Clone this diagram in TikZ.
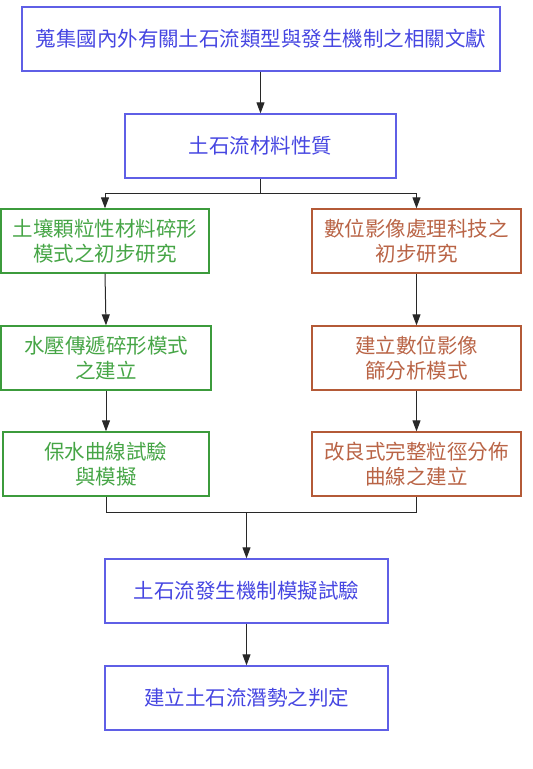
\documentclass[tikz,border=0pt]{standalone}
\usepackage{fontspec}
\newfontfamily\cjk{Noto Sans CJK TC}
\usetikzlibrary{arrows.meta}
\definecolor{blueC}{RGB}{70,70,225}
\definecolor{blueB}{RGB}{95,95,230}
\definecolor{greenC}{RGB}{70,165,70}
\definecolor{greenB}{RGB}{60,155,60}
\definecolor{brownC}{RGB}{185,100,70}
\definecolor{brownB}{RGB}{180,90,55}
\definecolor{lineC}{RGB}{40,40,40}
\tikzset{
  boxbase/.style={draw, line width=1.3pt, minimum height=64pt, inner sep=0pt, align=center, font=\cjk\fontsize{20.5pt}{25pt}\selectfont},
  bluebox/.style={boxbase, draw=blueB, text=blueC},
  greenbox/.style={boxbase, draw=greenB, text=greenC},
  brownbox/.style={boxbase, draw=brownB, text=brownC},
  conn/.style={draw=lineC, line width=1pt},
  arr/.style={conn, -{Triangle[length=11pt,width=8pt]}}
}
\begin{document}
\begin{tikzpicture}[x=1pt,y=-1pt]
\useasboundingbox (0,0) rectangle (533,769);
\node[bluebox, minimum width=478pt] (b1) at (261,39) {蒐集國內外有關土石流類型與發生機制之相關文獻};
\node[bluebox, minimum width=271pt] (b2) at (260.5,146) {土石流材料性質};
\node[greenbox, minimum width=208pt] (l1) at (105,241) {土壤顆粒性材料碎形\\模式之初步研究};
\node[brownbox, minimum width=209pt] (r1) at (416.5,241) {數位影像處理科技之\\初步研究};
\node[greenbox, minimum width=210pt] (l2) at (106,358) {水壓傳遞碎形模式\\之建立};
\node[brownbox, minimum width=209pt] (r2) at (416.5,358) {建立數位影像\\篩分析模式};
\node[greenbox, minimum width=206pt] (l3) at (106,464) {保水曲線試驗\\與模擬};
\node[brownbox, minimum width=209pt] (r3) at (416.5,464) {改良式完整粒徑分佈\\曲線之建立};
\node[bluebox, minimum width=283pt] (m1) at (246.5,591) {土石流發生機制模擬試驗};
\node[bluebox, minimum width=283pt] (m2) at (246.5,698) {建立土石流潛勢之判定};
\coordinate (split) at (260.5,193);
\coordinate (sl) at (105,193);
\coordinate (sr) at (416.5,193);
\coordinate (jl) at (106,512);
\coordinate (jr) at (416.5,512);
\coordinate (jm) at (246.5,512);
\draw[arr] (b1.south -| b2.north) -- (b2.north);
\draw[conn] (b2.south) -- (split);
\draw[conn] (sl) -- (sr);
\draw[arr] (sl) -- (l1.north);
\draw[arr] (sr) -- (r1.north);
\draw[arr] (l1.south) -- (l2.north);
\draw[arr] (r1.south) -- (r2.north);
\draw[arr] (l2.south) -- (l3.north);
\draw[arr] (r2.south) -- (r3.north);
\draw[conn] (l3.south) -- (jl) -- (jr) -- (r3.south);
\draw[arr] (jm) -- (m1.north);
\draw[arr] (m1.south) -- (m2.north);
\end{tikzpicture}
\end{document}
